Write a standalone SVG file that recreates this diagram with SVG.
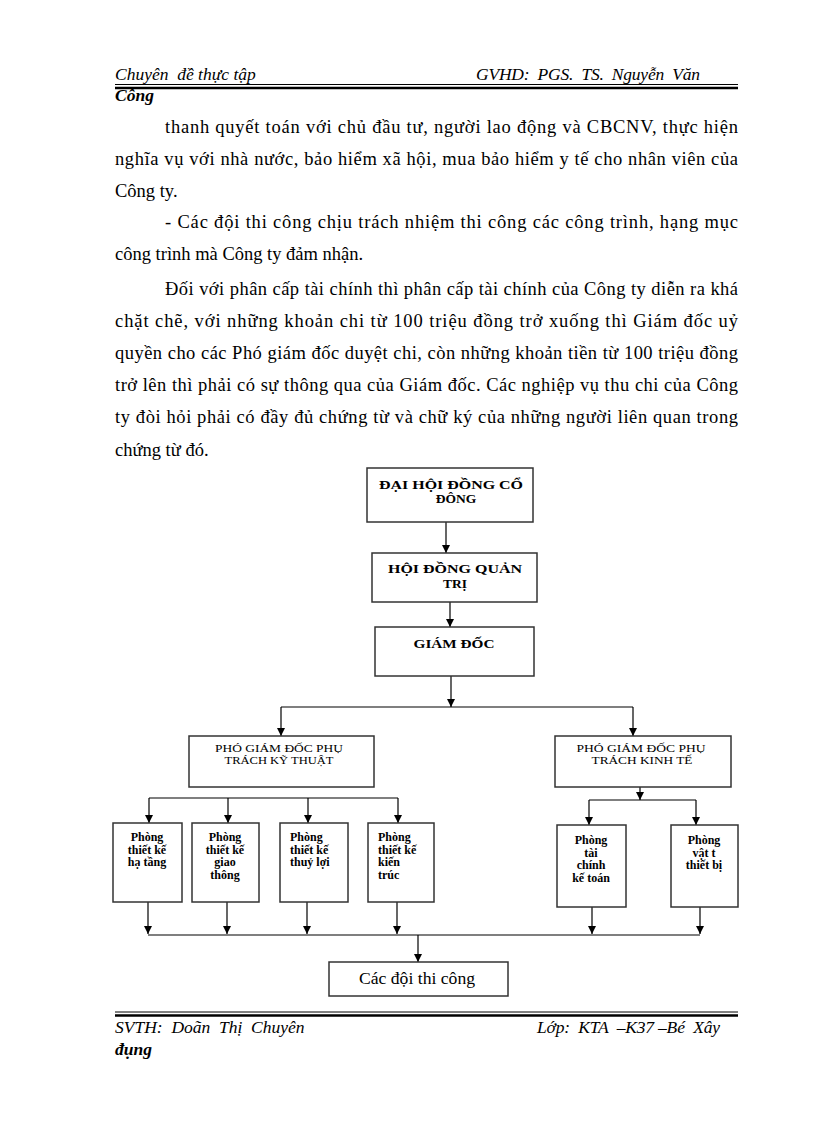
<svg xmlns="http://www.w3.org/2000/svg" width="816" height="1123" viewBox="0 0 816 1123">
<defs>
<marker id="ah" markerUnits="userSpaceOnUse" markerWidth="9" markerHeight="9" refX="8" refY="4" orient="auto">
<path d="M0,0 L8,4 L0,8 z" fill="#000"/>
</marker>
<style>
.hd{font-family:"Liberation Serif",serif;font-style:italic;font-size:17.5px;fill:#000;white-space:pre}
.bd{font-family:"Liberation Serif",serif;font-size:18.5px;fill:#000}
.box{fill:#fff;stroke:#333;stroke-width:1.5}
.t1{font-family:"Liberation Serif",serif;font-weight:bold;font-size:13.5px;text-anchor:middle;fill:#000}
.t2{font-family:"Liberation Serif",serif;font-size:11px;text-anchor:middle;fill:#000}
.t3{font-family:"Liberation Serif",serif;font-weight:bold;font-size:12px;fill:#000}
.mid{text-anchor:middle}
.t4{font-family:"Liberation Serif",serif;font-size:16px;text-anchor:middle;fill:#000}
.ln{stroke:#000;stroke-width:1.2;fill:none}
.ar{stroke:#000;stroke-width:1.2;fill:none;marker-end:url(#ah)}
</style>
</defs>
<rect width="816" height="1123" fill="#fff"/>

<g id="header">
<text class="hd" x="115" y="80">Chuyên  đề thực tập</text>
<text class="hd" x="476" y="80" textLength="224" lengthAdjust="spacing">GVHD:  PGS.  TS.  Nguyễn  Văn</text>
<line x1="115" y1="84.5" x2="738" y2="84.5" stroke="#000" stroke-width="1"/>
<line x1="115" y1="88" x2="738" y2="88" stroke="#000" stroke-width="2.5"/>
<text class="hd" x="115" y="101" font-weight="bold">Công</text>
</g>

<g id="body">
<text class="bd" x="165" y="133" textLength="573" lengthAdjust="spacing">thanh quyết toán với chủ đầu tư, người lao động và CBCNV, thực hiện</text>
<text class="bd" x="115" y="165" textLength="623" lengthAdjust="spacing">nghĩa vụ với nhà nước, bảo hiểm xã hội, mua bảo hiểm y tế cho nhân viên của</text>
<text class="bd" x="115" y="197">Công ty.</text>
<text class="bd" x="165" y="228" textLength="573" lengthAdjust="spacing">- Các đội thi công chịu trách nhiệm thi công các công trình, hạng mục</text>
<text class="bd" x="115" y="260">công trình mà Công ty đảm nhận.</text>
<text class="bd" x="165" y="295" textLength="573" lengthAdjust="spacing">Đối với phân cấp tài chính thì phân cấp tài chính của Công ty diễn ra khá</text>
<text class="bd" x="115" y="327" textLength="623" lengthAdjust="spacing">chặt chẽ, với những khoản chi từ 100 triệu đồng trở xuống thì Giám đốc uỷ</text>
<text class="bd" x="115" y="359" textLength="623" lengthAdjust="spacing">quyền cho các Phó giám đốc duyệt chi, còn những khoản tiền từ 100 triệu đồng</text>
<text class="bd" x="115" y="391" textLength="623" lengthAdjust="spacing">trở lên thì phải có sự thông qua của Giám đốc. Các nghiệp vụ thu chi của Công</text>
<text class="bd" x="115" y="423" textLength="623" lengthAdjust="spacing">ty đòi hỏi phải có đầy đủ chứng từ và chữ ký của những người liên quan trong</text>
<text class="bd" x="115" y="456">chứng từ đó.</text>
</g>

<g id="connectors">
<path class="ar" d="M446,522 V553"/>
<path class="ar" d="M450,602 V627"/>
<path class="ar" d="M451,676 V707"/>
<path class="ln" d="M281,707 H633"/>
<path class="ar" d="M281,707 V736"/>
<path class="ar" d="M633,707 V736"/>
<path class="ln" d="M149,798 H398"/>
<path class="ar" d="M149,798 V823"/>
<path class="ar" d="M228,798 V823"/>
<path class="ar" d="M308,798 V823"/>
<path class="ar" d="M398,798 V823"/>
<path class="ar" d="M640,787 V800"/>
<path class="ln" d="M589,800 H696"/>
<path class="ar" d="M589,800 V825"/>
<path class="ar" d="M696,800 V825"/>
<path class="ar" d="M148,902 V934"/>
<path class="ar" d="M227,902 V934"/>
<path class="ar" d="M307,902 V934"/>
<path class="ar" d="M397,902 V934"/>
<path class="ar" d="M592,907 V934"/>
<path class="ar" d="M700,907 V934"/>
<path class="ln" d="M148,935 H700"/>
<path class="ar" d="M418,935 V962"/>
</g>

<g id="n-daihoi">
<rect class="box" x="367" y="468" width="166" height="54"/>
<text class="t1" x="451" y="489" textLength="144" lengthAdjust="spacingAndGlyphs">ĐẠI HỘI ĐỒNG CỔ</text>
<text class="t1" x="456" y="503">ĐÔNG</text>
</g>
<g id="n-hdqt">
<rect class="box" x="372" y="553" width="165" height="49"/>
<text class="t1" x="455" y="573" textLength="134" lengthAdjust="spacingAndGlyphs">HỘI ĐỒNG QUẢN</text>
<text class="t1" x="455" y="588">TRỊ</text>
</g>
<g id="n-gd">
<rect class="box" x="375" y="627" width="159" height="49"/>
<text class="t1" x="454" y="648" textLength="81" lengthAdjust="spacingAndGlyphs">GIÁM ĐỐC</text>
</g>
<g id="n-pgd-kt">
<rect class="box" x="189" y="736" width="185" height="51"/>
<text class="t2" x="279" y="752" textLength="128" lengthAdjust="spacingAndGlyphs">PHÓ GIÁM ĐỐC PHỤ</text>
<text class="t2" x="279" y="764" textLength="109" lengthAdjust="spacingAndGlyphs">TRÁCH KỸ THUẬT</text>
</g>
<g id="n-pgd-kte">
<rect class="box" x="555" y="736" width="176" height="51"/>
<text class="t2" x="641" y="752" textLength="129" lengthAdjust="spacingAndGlyphs">PHÓ GIÁM ĐỐC PHỤ</text>
<text class="t2" x="642" y="764" textLength="101" lengthAdjust="spacingAndGlyphs">TRÁCH KINH TẾ</text>
</g>
<g id="n-hatang">
<rect class="box" x="113" y="823" width="69" height="79"/>
<text class="t3 mid" x="147" y="841">Phòng</text>
<text class="t3 mid" x="147" y="853.5">thiết kế</text>
<text class="t3 mid" x="147" y="866">hạ tầng</text>
</g>
<g id="n-giaothong">
<rect class="box" x="192" y="823" width="67" height="79"/>
<text class="t3 mid" x="225" y="841">Phòng</text>
<text class="t3 mid" x="225" y="853.5">thiết kế</text>
<text class="t3 mid" x="225" y="866">giao</text>
<text class="t3 mid" x="225" y="878.5">thông</text>
</g>
<g id="n-thuyloi">
<rect class="box" x="280" y="823" width="68" height="79"/>
<text class="t3" x="290" y="841">Phòng</text>
<text class="t3" x="290" y="853.5">thiết kế</text>
<text class="t3" x="290" y="866">thuỷ lợi</text>
</g>
<g id="n-kientruc">
<rect class="box" x="368" y="823" width="66" height="79"/>
<text class="t3" x="378" y="841">Phòng</text>
<text class="t3" x="378" y="853.5">thiết kế</text>
<text class="t3" x="378" y="866">kiến</text>
<text class="t3" x="378" y="878.5">trúc</text>
</g>
<g id="n-taichinh">
<rect class="box" x="557" y="825" width="69" height="82"/>
<text class="t3 mid" x="591" y="844">Phòng</text>
<text class="t3 mid" x="591" y="856.5">tài</text>
<text class="t3 mid" x="591" y="869">chính</text>
<text class="t3 mid" x="591" y="881.5">kế toán</text>
</g>
<g id="n-vattu">
<rect class="box" x="671" y="825" width="67" height="82"/>
<text class="t3 mid" x="704" y="844">Phòng</text>
<text class="t3 mid" x="704" y="856.5">vật t</text>
<text class="t3 mid" x="704" y="869">thiết bị</text>
</g>
<g id="n-doithicong">
<rect class="box" x="329" y="962" width="179" height="34"/>
<text class="t4" x="417" y="984" textLength="116" lengthAdjust="spacingAndGlyphs">Các đội thi công</text>
</g>

<g id="footer">
<line x1="115" y1="1012" x2="738" y2="1012" stroke="#000" stroke-width="1"/>
<line x1="115" y1="1015.5" x2="738" y2="1015.5" stroke="#000" stroke-width="2.5"/>
<text class="hd" x="115" y="1033">SVTH:  Doãn  Thị  Chuyên</text>
<text class="hd" x="537" y="1033" textLength="183" lengthAdjust="spacing">Lớp:  KTA  –K37 –Bé  Xây</text>
<text class="hd" x="115" y="1055" font-weight="bold">đụng</text>
</g>
</svg>
